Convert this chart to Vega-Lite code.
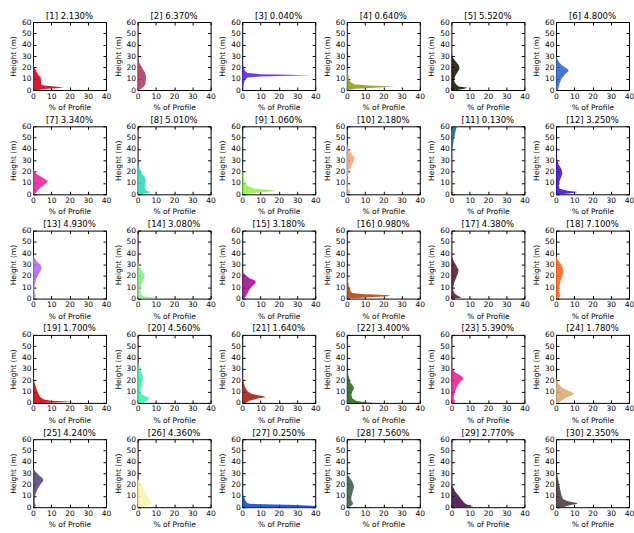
{
"$schema": "https://vega.github.io/schema/vega-lite/v6.json",
"background": "white",
"padding": {"left": 8, "top": 11, "right": 5, "bottom": 3},
"bounds": "flush",
"spacing": {"column": 31.6, "row": 36.3},
"columns": 6,
"data": {"values": [
{"i":1,"t":"[1] 2.130%","h":0,"v":3},{"i":1,"t":"[1] 2.130%","h":1,"v":8},{"i":1,"t":"[1] 2.130%","h":2,"v":17},{"i":1,"t":"[1] 2.130%","h":3,"v":12},{"i":1,"t":"[1] 2.130%","h":4,"v":6},{"i":1,"t":"[1] 2.130%","h":5,"v":4.5},{"i":1,"t":"[1] 2.130%","h":8,"v":4.4},{"i":1,"t":"[1] 2.130%","h":11,"v":4.2},{"i":1,"t":"[1] 2.130%","h":13,"v":3},{"i":1,"t":"[1] 2.130%","h":16,"v":2},{"i":1,"t":"[1] 2.130%","h":19,"v":1},{"i":1,"t":"[1] 2.130%","h":22,"v":0.3},{"i":1,"t":"[1] 2.130%","h":25,"v":0},
{"i":2,"t":"[2] 6.370%","h":0,"v":0.5},{"i":2,"t":"[2] 6.370%","h":1,"v":2},{"i":2,"t":"[2] 6.370%","h":3,"v":3.5},{"i":2,"t":"[2] 6.370%","h":5,"v":4.3},{"i":2,"t":"[2] 6.370%","h":8,"v":4.5},{"i":2,"t":"[2] 6.370%","h":12,"v":4.6},{"i":2,"t":"[2] 6.370%","h":15,"v":4.2},{"i":2,"t":"[2] 6.370%","h":18,"v":3},{"i":2,"t":"[2] 6.370%","h":21,"v":2},{"i":2,"t":"[2] 6.370%","h":24,"v":1},{"i":2,"t":"[2] 6.370%","h":27,"v":0},
{"i":3,"t":"[3] 0.040%","h":0,"v":0.3},{"i":3,"t":"[3] 0.040%","h":5,"v":0.8},{"i":3,"t":"[3] 0.040%","h":9,"v":1.5},{"i":3,"t":"[3] 0.040%","h":11,"v":3},{"i":3,"t":"[3] 0.040%","h":12,"v":10},{"i":3,"t":"[3] 0.040%","h":13,"v":38},{"i":3,"t":"[3] 0.040%","h":14,"v":10},{"i":3,"t":"[3] 0.040%","h":15,"v":3},{"i":3,"t":"[3] 0.040%","h":17,"v":1.5},{"i":3,"t":"[3] 0.040%","h":20,"v":0.8},{"i":3,"t":"[3] 0.040%","h":25,"v":0.2},{"i":3,"t":"[3] 0.040%","h":28,"v":0},
{"i":4,"t":"[4] 0.640%","h":0,"v":1},{"i":4,"t":"[4] 0.640%","h":1,"v":5},{"i":4,"t":"[4] 0.640%","h":2,"v":15},{"i":4,"t":"[4] 0.640%","h":3,"v":26},{"i":4,"t":"[4] 0.640%","h":4,"v":12},{"i":4,"t":"[4] 0.640%","h":5,"v":4},{"i":4,"t":"[4] 0.640%","h":7,"v":2},{"i":4,"t":"[4] 0.640%","h":10,"v":1.2},{"i":4,"t":"[4] 0.640%","h":15,"v":0.6},{"i":4,"t":"[4] 0.640%","h":20,"v":0.2},{"i":4,"t":"[4] 0.640%","h":23,"v":0},
{"i":5,"t":"[5] 5.520%","h":0,"v":3},{"i":5,"t":"[5] 5.520%","h":1,"v":7},{"i":5,"t":"[5] 5.520%","h":2,"v":9},{"i":5,"t":"[5] 5.520%","h":3,"v":4},{"i":5,"t":"[5] 5.520%","h":5,"v":2.5},{"i":5,"t":"[5] 5.520%","h":8,"v":1.5},{"i":5,"t":"[5] 5.520%","h":12,"v":2},{"i":5,"t":"[5] 5.520%","h":16,"v":3.5},{"i":5,"t":"[5] 5.520%","h":19,"v":4.5},{"i":5,"t":"[5] 5.520%","h":22,"v":4},{"i":5,"t":"[5] 5.520%","h":25,"v":2.5},{"i":5,"t":"[5] 5.520%","h":28,"v":1},{"i":5,"t":"[5] 5.520%","h":31,"v":0.2},{"i":5,"t":"[5] 5.520%","h":33,"v":0},
{"i":6,"t":"[6] 4.800%","h":0,"v":1},{"i":6,"t":"[6] 4.800%","h":3,"v":1.5},{"i":6,"t":"[6] 4.800%","h":6,"v":2},{"i":6,"t":"[6] 4.800%","h":10,"v":3},{"i":6,"t":"[6] 4.800%","h":14,"v":5},{"i":6,"t":"[6] 4.800%","h":17,"v":7},{"i":6,"t":"[6] 4.800%","h":19,"v":6},{"i":6,"t":"[6] 4.800%","h":22,"v":3},{"i":6,"t":"[6] 4.800%","h":25,"v":1.5},{"i":6,"t":"[6] 4.800%","h":28,"v":0.5},{"i":6,"t":"[6] 4.800%","h":30,"v":0},
{"i":7,"t":"[7] 3.340%","h":0,"v":1},{"i":7,"t":"[7] 3.340%","h":2,"v":2},{"i":7,"t":"[7] 3.340%","h":4,"v":3},{"i":7,"t":"[7] 3.340%","h":7,"v":5},{"i":7,"t":"[7] 3.340%","h":10,"v":7.5},{"i":7,"t":"[7] 3.340%","h":12,"v":8},{"i":7,"t":"[7] 3.340%","h":14,"v":6},{"i":7,"t":"[7] 3.340%","h":16,"v":4},{"i":7,"t":"[7] 3.340%","h":18,"v":2},{"i":7,"t":"[7] 3.340%","h":20,"v":1},{"i":7,"t":"[7] 3.340%","h":22,"v":0},
{"i":8,"t":"[8] 5.010%","h":0,"v":2},{"i":8,"t":"[8] 5.010%","h":1,"v":5},{"i":8,"t":"[8] 5.010%","h":2,"v":7.5},{"i":8,"t":"[8] 5.010%","h":3,"v":5},{"i":8,"t":"[8] 5.010%","h":5,"v":4},{"i":8,"t":"[8] 5.010%","h":8,"v":4},{"i":8,"t":"[8] 5.010%","h":12,"v":4.5},{"i":8,"t":"[8] 5.010%","h":15,"v":4},{"i":8,"t":"[8] 5.010%","h":18,"v":2.5},{"i":8,"t":"[8] 5.010%","h":21,"v":1.5},{"i":8,"t":"[8] 5.010%","h":24,"v":0.8},{"i":8,"t":"[8] 5.010%","h":28,"v":0},
{"i":9,"t":"[9] 1.060%","h":0,"v":1.5},{"i":9,"t":"[9] 1.060%","h":1,"v":5},{"i":9,"t":"[9] 1.060%","h":2,"v":12},{"i":9,"t":"[9] 1.060%","h":3,"v":19},{"i":9,"t":"[9] 1.060%","h":4,"v":14},{"i":9,"t":"[9] 1.060%","h":5,"v":7},{"i":9,"t":"[9] 1.060%","h":7,"v":3},{"i":9,"t":"[9] 1.060%","h":10,"v":1.5},{"i":9,"t":"[9] 1.060%","h":13,"v":1},{"i":9,"t":"[9] 1.060%","h":17,"v":0.5},{"i":9,"t":"[9] 1.060%","h":22,"v":0.1},{"i":9,"t":"[9] 1.060%","h":25,"v":0},
{"i":10,"t":"[10] 2.180%","h":0,"v":0.3},{"i":10,"t":"[10] 2.180%","h":1,"v":1.5},{"i":10,"t":"[10] 2.180%","h":2,"v":2},{"i":10,"t":"[10] 2.180%","h":3,"v":1.5},{"i":10,"t":"[10] 2.180%","h":5,"v":0.8},{"i":10,"t":"[10] 2.180%","h":10,"v":0.5},{"i":10,"t":"[10] 2.180%","h":15,"v":0.5},{"i":10,"t":"[10] 2.180%","h":20,"v":1},{"i":10,"t":"[10] 2.180%","h":25,"v":2.5},{"i":10,"t":"[10] 2.180%","h":30,"v":4},{"i":10,"t":"[10] 2.180%","h":32,"v":4.2},{"i":10,"t":"[10] 2.180%","h":35,"v":3},{"i":10,"t":"[10] 2.180%","h":38,"v":1.5},{"i":10,"t":"[10] 2.180%","h":42,"v":0.5},{"i":10,"t":"[10] 2.180%","h":46,"v":0},
{"i":11,"t":"[11] 0.130%","h":0,"v":0},{"i":11,"t":"[11] 0.130%","h":34,"v":0},{"i":11,"t":"[11] 0.130%","h":36,"v":0.2},{"i":11,"t":"[11] 0.130%","h":40,"v":0.5},{"i":11,"t":"[11] 0.130%","h":45,"v":1},{"i":11,"t":"[11] 0.130%","h":50,"v":1.5},{"i":11,"t":"[11] 0.130%","h":55,"v":2.2},{"i":11,"t":"[11] 0.130%","h":60,"v":3},
{"i":12,"t":"[12] 3.250%","h":0,"v":3},{"i":12,"t":"[12] 3.250%","h":1,"v":8},{"i":12,"t":"[12] 3.250%","h":2,"v":12},{"i":12,"t":"[12] 3.250%","h":3,"v":7},{"i":12,"t":"[12] 3.250%","h":5,"v":2},{"i":12,"t":"[12] 3.250%","h":8,"v":1.5},{"i":12,"t":"[12] 3.250%","h":12,"v":2},{"i":12,"t":"[12] 3.250%","h":16,"v":3},{"i":12,"t":"[12] 3.250%","h":19,"v":3.5},{"i":12,"t":"[12] 3.250%","h":22,"v":3},{"i":12,"t":"[12] 3.250%","h":26,"v":1.5},{"i":12,"t":"[12] 3.250%","h":30,"v":0.7},{"i":12,"t":"[12] 3.250%","h":35,"v":0.2},{"i":12,"t":"[12] 3.250%","h":38,"v":0},
{"i":13,"t":"[13] 4.930%","h":0,"v":0.5},{"i":13,"t":"[13] 4.930%","h":2,"v":1.5},{"i":13,"t":"[13] 4.930%","h":4,"v":1},{"i":13,"t":"[13] 4.930%","h":8,"v":0.8},{"i":13,"t":"[13] 4.930%","h":12,"v":1},{"i":13,"t":"[13] 4.930%","h":16,"v":1.5},{"i":13,"t":"[13] 4.930%","h":20,"v":2.5},{"i":13,"t":"[13] 4.930%","h":24,"v":4},{"i":13,"t":"[13] 4.930%","h":27,"v":4.8},{"i":13,"t":"[13] 4.930%","h":30,"v":4},{"i":13,"t":"[13] 4.930%","h":33,"v":2},{"i":13,"t":"[13] 4.930%","h":36,"v":0.7},{"i":13,"t":"[13] 4.930%","h":38,"v":0},
{"i":14,"t":"[14] 3.080%","h":0,"v":18},{"i":14,"t":"[14] 3.080%","h":1,"v":8},{"i":14,"t":"[14] 3.080%","h":2,"v":3},{"i":14,"t":"[14] 3.080%","h":4,"v":1.5},{"i":14,"t":"[14] 3.080%","h":8,"v":1.5},{"i":14,"t":"[14] 3.080%","h":12,"v":2},{"i":14,"t":"[14] 3.080%","h":16,"v":3},{"i":14,"t":"[14] 3.080%","h":20,"v":4},{"i":14,"t":"[14] 3.080%","h":22,"v":3.5},{"i":14,"t":"[14] 3.080%","h":25,"v":2},{"i":14,"t":"[14] 3.080%","h":28,"v":1},{"i":14,"t":"[14] 3.080%","h":32,"v":0.3},{"i":14,"t":"[14] 3.080%","h":35,"v":0},
{"i":15,"t":"[15] 3.180%","h":0,"v":1},{"i":15,"t":"[15] 3.180%","h":2,"v":2},{"i":15,"t":"[15] 3.180%","h":5,"v":3},{"i":15,"t":"[15] 3.180%","h":8,"v":4},{"i":15,"t":"[15] 3.180%","h":11,"v":5.5},{"i":15,"t":"[15] 3.180%","h":14,"v":7.5},{"i":15,"t":"[15] 3.180%","h":16,"v":7},{"i":15,"t":"[15] 3.180%","h":18,"v":4},{"i":15,"t":"[15] 3.180%","h":20,"v":2.5},{"i":15,"t":"[15] 3.180%","h":22,"v":1},{"i":15,"t":"[15] 3.180%","h":24,"v":0},
{"i":16,"t":"[16] 0.980%","h":0,"v":3},{"i":16,"t":"[16] 0.980%","h":1,"v":10},{"i":16,"t":"[16] 0.980%","h":2,"v":22},{"i":16,"t":"[16] 0.980%","h":3,"v":24},{"i":16,"t":"[16] 0.980%","h":4,"v":8},{"i":16,"t":"[16] 0.980%","h":5,"v":3},{"i":16,"t":"[16] 0.980%","h":7,"v":2},{"i":16,"t":"[16] 0.980%","h":10,"v":1.2},{"i":16,"t":"[16] 0.980%","h":14,"v":0.8},{"i":16,"t":"[16] 0.980%","h":18,"v":0.4},{"i":16,"t":"[16] 0.980%","h":22,"v":0.1},{"i":16,"t":"[16] 0.980%","h":24,"v":0},
{"i":17,"t":"[17] 4.380%","h":0,"v":3},{"i":17,"t":"[17] 4.380%","h":1,"v":5.5},{"i":17,"t":"[17] 4.380%","h":2,"v":4},{"i":17,"t":"[17] 4.380%","h":4,"v":2},{"i":17,"t":"[17] 4.380%","h":7,"v":1},{"i":17,"t":"[17] 4.380%","h":10,"v":1},{"i":17,"t":"[17] 4.380%","h":14,"v":1.5},{"i":17,"t":"[17] 4.380%","h":18,"v":2.5},{"i":17,"t":"[17] 4.380%","h":22,"v":3.5},{"i":17,"t":"[17] 4.380%","h":25,"v":4},{"i":17,"t":"[17] 4.380%","h":28,"v":3},{"i":17,"t":"[17] 4.380%","h":31,"v":2},{"i":17,"t":"[17] 4.380%","h":34,"v":1},{"i":17,"t":"[17] 4.380%","h":37,"v":0.3},{"i":17,"t":"[17] 4.380%","h":39,"v":0},
{"i":18,"t":"[18] 7.100%","h":0,"v":1},{"i":18,"t":"[18] 7.100%","h":2,"v":2.5},{"i":18,"t":"[18] 7.100%","h":4,"v":2},{"i":18,"t":"[18] 7.100%","h":8,"v":1.5},{"i":18,"t":"[18] 7.100%","h":12,"v":2},{"i":18,"t":"[18] 7.100%","h":16,"v":2.5},{"i":18,"t":"[18] 7.100%","h":20,"v":3.5},{"i":18,"t":"[18] 7.100%","h":24,"v":4},{"i":18,"t":"[18] 7.100%","h":28,"v":3.5},{"i":18,"t":"[18] 7.100%","h":31,"v":2.5},{"i":18,"t":"[18] 7.100%","h":34,"v":1},{"i":18,"t":"[18] 7.100%","h":37,"v":0.3},{"i":18,"t":"[18] 7.100%","h":39,"v":0},
{"i":19,"t":"[19] 1.700%","h":0,"v":5},{"i":19,"t":"[19] 1.700%","h":1,"v":22},{"i":19,"t":"[19] 1.700%","h":2,"v":10},{"i":19,"t":"[19] 1.700%","h":3,"v":6},{"i":19,"t":"[19] 1.700%","h":5,"v":4},{"i":19,"t":"[19] 1.700%","h":8,"v":3},{"i":19,"t":"[19] 1.700%","h":12,"v":2},{"i":19,"t":"[19] 1.700%","h":16,"v":1.2},{"i":19,"t":"[19] 1.700%","h":20,"v":0.5},{"i":19,"t":"[19] 1.700%","h":24,"v":0.2},{"i":19,"t":"[19] 1.700%","h":28,"v":0},
{"i":20,"t":"[20] 4.560%","h":0,"v":3},{"i":20,"t":"[20] 4.560%","h":2,"v":5},{"i":20,"t":"[20] 4.560%","h":4,"v":6.5},{"i":20,"t":"[20] 4.560%","h":6,"v":4},{"i":20,"t":"[20] 4.560%","h":8,"v":2},{"i":20,"t":"[20] 4.560%","h":11,"v":1.5},{"i":20,"t":"[20] 4.560%","h":14,"v":2},{"i":20,"t":"[20] 4.560%","h":18,"v":2.5},{"i":20,"t":"[20] 4.560%","h":22,"v":3},{"i":20,"t":"[20] 4.560%","h":25,"v":2.5},{"i":20,"t":"[20] 4.560%","h":29,"v":1.5},{"i":20,"t":"[20] 4.560%","h":33,"v":0.6},{"i":20,"t":"[20] 4.560%","h":36,"v":0},
{"i":21,"t":"[21] 1.640%","h":0,"v":2},{"i":21,"t":"[21] 1.640%","h":2,"v":4},{"i":21,"t":"[21] 1.640%","h":4,"v":9},{"i":21,"t":"[21] 1.640%","h":5,"v":13},{"i":21,"t":"[21] 1.640%","h":6,"v":11},{"i":21,"t":"[21] 1.640%","h":8,"v":5},{"i":21,"t":"[21] 1.640%","h":10,"v":3},{"i":21,"t":"[21] 1.640%","h":14,"v":1.5},{"i":21,"t":"[21] 1.640%","h":18,"v":0.8},{"i":21,"t":"[21] 1.640%","h":22,"v":0.3},{"i":21,"t":"[21] 1.640%","h":26,"v":0},
{"i":22,"t":"[22] 3.400%","h":0,"v":15},{"i":22,"t":"[22] 3.400%","h":1,"v":8},{"i":22,"t":"[22] 3.400%","h":2,"v":5},{"i":22,"t":"[22] 3.400%","h":4,"v":3},{"i":22,"t":"[22] 3.400%","h":7,"v":2.5},{"i":22,"t":"[22] 3.400%","h":10,"v":3},{"i":22,"t":"[22] 3.400%","h":13,"v":4},{"i":22,"t":"[22] 3.400%","h":15,"v":3.5},{"i":22,"t":"[22] 3.400%","h":18,"v":2},{"i":22,"t":"[22] 3.400%","h":21,"v":1.5},{"i":22,"t":"[22] 3.400%","h":25,"v":0.7},{"i":22,"t":"[22] 3.400%","h":29,"v":0},
{"i":23,"t":"[23] 5.390%","h":0,"v":1.5},{"i":23,"t":"[23] 5.390%","h":2,"v":2},{"i":23,"t":"[23] 5.390%","h":4,"v":1.2},{"i":23,"t":"[23] 5.390%","h":7,"v":1.5},{"i":23,"t":"[23] 5.390%","h":10,"v":2},{"i":23,"t":"[23] 5.390%","h":14,"v":3},{"i":23,"t":"[23] 5.390%","h":18,"v":4.5},{"i":23,"t":"[23] 5.390%","h":21,"v":6.5},{"i":23,"t":"[23] 5.390%","h":23,"v":6},{"i":23,"t":"[23] 5.390%","h":25,"v":4},{"i":23,"t":"[23] 5.390%","h":27,"v":2},{"i":23,"t":"[23] 5.390%","h":30,"v":0.5},{"i":23,"t":"[23] 5.390%","h":32,"v":0},
{"i":24,"t":"[24] 1.780%","h":0,"v":1},{"i":24,"t":"[24] 1.780%","h":2,"v":3},{"i":24,"t":"[24] 1.780%","h":4,"v":5},{"i":24,"t":"[24] 1.780%","h":6,"v":8},{"i":24,"t":"[24] 1.780%","h":8,"v":10},{"i":24,"t":"[24] 1.780%","h":10,"v":8},{"i":24,"t":"[24] 1.780%","h":12,"v":5},{"i":24,"t":"[24] 1.780%","h":14,"v":3},{"i":24,"t":"[24] 1.780%","h":17,"v":1.5},{"i":24,"t":"[24] 1.780%","h":20,"v":0.5},{"i":24,"t":"[24] 1.780%","h":22,"v":0},
{"i":25,"t":"[25] 4.240%","h":0,"v":1},{"i":25,"t":"[25] 4.240%","h":2,"v":1.5},{"i":25,"t":"[25] 4.240%","h":4,"v":1},{"i":25,"t":"[25] 4.240%","h":8,"v":1},{"i":25,"t":"[25] 4.240%","h":12,"v":1.5},{"i":25,"t":"[25] 4.240%","h":16,"v":2.5},{"i":25,"t":"[25] 4.240%","h":20,"v":4},{"i":25,"t":"[25] 4.240%","h":23,"v":5.5},{"i":25,"t":"[25] 4.240%","h":25,"v":5.5},{"i":25,"t":"[25] 4.240%","h":28,"v":3.5},{"i":25,"t":"[25] 4.240%","h":31,"v":1.5},{"i":25,"t":"[25] 4.240%","h":34,"v":0.3},{"i":25,"t":"[25] 4.240%","h":36,"v":0},
{"i":26,"t":"[26] 4.360%","h":0,"v":3},{"i":26,"t":"[26] 4.360%","h":2,"v":6},{"i":26,"t":"[26] 4.360%","h":4,"v":8},{"i":26,"t":"[26] 4.360%","h":6,"v":7},{"i":26,"t":"[26] 4.360%","h":8,"v":6},{"i":26,"t":"[26] 4.360%","h":11,"v":5},{"i":26,"t":"[26] 4.360%","h":14,"v":4},{"i":26,"t":"[26] 4.360%","h":17,"v":3},{"i":26,"t":"[26] 4.360%","h":20,"v":2},{"i":26,"t":"[26] 4.360%","h":23,"v":1},{"i":26,"t":"[26] 4.360%","h":25,"v":0},
{"i":27,"t":"[27] 0.250%","h":0,"v":45},{"i":27,"t":"[27] 0.250%","h":1,"v":42},{"i":27,"t":"[27] 0.250%","h":2,"v":30},{"i":27,"t":"[27] 0.250%","h":3,"v":4},{"i":27,"t":"[27] 0.250%","h":4,"v":2.5},{"i":27,"t":"[27] 0.250%","h":6,"v":1.8},{"i":27,"t":"[27] 0.250%","h":8,"v":1.2},{"i":27,"t":"[27] 0.250%","h":10,"v":0.8},{"i":27,"t":"[27] 0.250%","h":12,"v":0.3},{"i":27,"t":"[27] 0.250%","h":15,"v":0},
{"i":28,"t":"[28] 7.560%","h":0,"v":1},{"i":28,"t":"[28] 7.560%","h":2,"v":3},{"i":28,"t":"[28] 7.560%","h":4,"v":3.5},{"i":28,"t":"[28] 7.560%","h":6,"v":2.5},{"i":28,"t":"[28] 7.560%","h":9,"v":2.5},{"i":28,"t":"[28] 7.560%","h":12,"v":3},{"i":28,"t":"[28] 7.560%","h":15,"v":3.5},{"i":28,"t":"[28] 7.560%","h":18,"v":4},{"i":28,"t":"[28] 7.560%","h":21,"v":3.5},{"i":28,"t":"[28] 7.560%","h":24,"v":2.5},{"i":28,"t":"[28] 7.560%","h":27,"v":1.2},{"i":28,"t":"[28] 7.560%","h":30,"v":0},
{"i":29,"t":"[29] 2.770%","h":0,"v":8},{"i":29,"t":"[29] 2.770%","h":1,"v":12},{"i":29,"t":"[29] 2.770%","h":2,"v":9},{"i":29,"t":"[29] 2.770%","h":4,"v":7},{"i":29,"t":"[29] 2.770%","h":6,"v":6},{"i":29,"t":"[29] 2.770%","h":8,"v":5},{"i":29,"t":"[29] 2.770%","h":10,"v":4},{"i":29,"t":"[29] 2.770%","h":12,"v":3},{"i":29,"t":"[29] 2.770%","h":14,"v":2},{"i":29,"t":"[29] 2.770%","h":16,"v":1.5},{"i":29,"t":"[29] 2.770%","h":18,"v":0.8},{"i":29,"t":"[29] 2.770%","h":20,"v":0},
{"i":30,"t":"[30] 2.350%","h":0,"v":4},{"i":30,"t":"[30] 2.350%","h":2,"v":8},{"i":30,"t":"[30] 2.350%","h":3,"v":12},{"i":30,"t":"[30] 2.350%","h":4,"v":11},{"i":30,"t":"[30] 2.350%","h":5,"v":7},{"i":30,"t":"[30] 2.350%","h":7,"v":4},{"i":30,"t":"[30] 2.350%","h":10,"v":3},{"i":30,"t":"[30] 2.350%","h":14,"v":2.5},{"i":30,"t":"[30] 2.350%","h":18,"v":2},{"i":30,"t":"[30] 2.350%","h":22,"v":1.5},{"i":30,"t":"[30] 2.350%","h":26,"v":1},{"i":30,"t":"[30] 2.350%","h":30,"v":0.5},{"i":30,"t":"[30] 2.350%","h":33,"v":0}
]},
"facet": {"field": "t", "type": "nominal", "sort": {"field": "i", "op": "min"}, "title": null},
"resolve": {"axis": {"x": "independent", "y": "independent"}},
"spec": {
  "width": 73,
  "height": 68,
  "layer": [
    {
      "mark": {"type": "area", "orient": "horizontal", "opacity": 0.88, "clip": true},
      "encoding": {
        "y": {"field": "h", "type": "quantitative", "scale": {"domain": [0, 60], "nice": false}, "axis": {"values": [0, 10, 20, 30, 40, 50, 60], "title": "Height (m)"}},
        "x": {"field": "v", "type": "quantitative", "stack": null, "scale": {"domain": [0, 40], "nice": false}, "axis": {"values": [0, 10, 20, 30, 40], "title": "% of Profile"}},
        "x2": {"datum": 0},
        "color": {"field": "t", "type": "nominal", "legend": null, "scale": {
          "domain": ["[1] 2.130%","[2] 6.370%","[3] 0.040%","[4] 0.640%","[5] 5.520%","[6] 4.800%","[7] 3.340%","[8] 5.010%","[9] 1.060%","[10] 2.180%","[11] 0.130%","[12] 3.250%","[13] 4.930%","[14] 3.080%","[15] 3.180%","[16] 0.980%","[17] 4.380%","[18] 7.100%","[19] 1.700%","[20] 4.560%","[21] 1.640%","[22] 3.400%","[23] 5.390%","[24] 1.780%","[25] 4.240%","[26] 4.360%","[27] 0.250%","[28] 7.560%","[29] 2.770%","[30] 2.350%"],
          "range": ["#c8001e","#ae3a62","#5a20e0","#8a9e12","#141405","#2f64c4","#e0249a","#30d8c0","#92ee48","#f4a080","#186888","#4012c0","#b066ee","#88e888","#a0108c","#b04412","#521a30","#ff6418","#cc0008","#38f4a8","#a01c12","#246a1c","#e82090","#d8aa78","#52447e","#f8f4b4","#0a48d0","#3a5c44","#401040","#483a3c"]}}
      }
    },
    {
      "mark": {"type": "point", "opacity": 0},
      "encoding": {
        "y": {"field": "h", "type": "quantitative", "scale": {"domain": [0, 60], "nice": false}, "axis": {"orient": "right", "values": [0, 10, 20, 30, 40, 50, 60], "labels": false, "title": null}},
        "x": {"field": "v", "type": "quantitative", "scale": {"domain": [0, 40], "nice": false}, "axis": {"orient": "top", "values": [0, 10, 20, 30, 40], "labels": false, "title": null}}
      }
    }
  ],
  "resolve": {"axis": {"x": "independent", "y": "independent"}}
},
"config": {
  "font": "DejaVu Sans",
  "view": {"stroke": "black", "strokeWidth": 1},
  "axis": {"grid": false, "domain": false, "tickColor": "black", "tickSize": -3, "labelFontSize": 7.5, "labelColor": "black", "titleFontSize": 7.5, "titleFontWeight": "normal", "titleColor": "black", "labelPadding": 5, "titlePadding": 4, "labelFlush": false, "labelOverlap": false},
  "header": {"labelFontSize": 8.5, "labelColor": "black", "labelPadding": -2}
}
}
